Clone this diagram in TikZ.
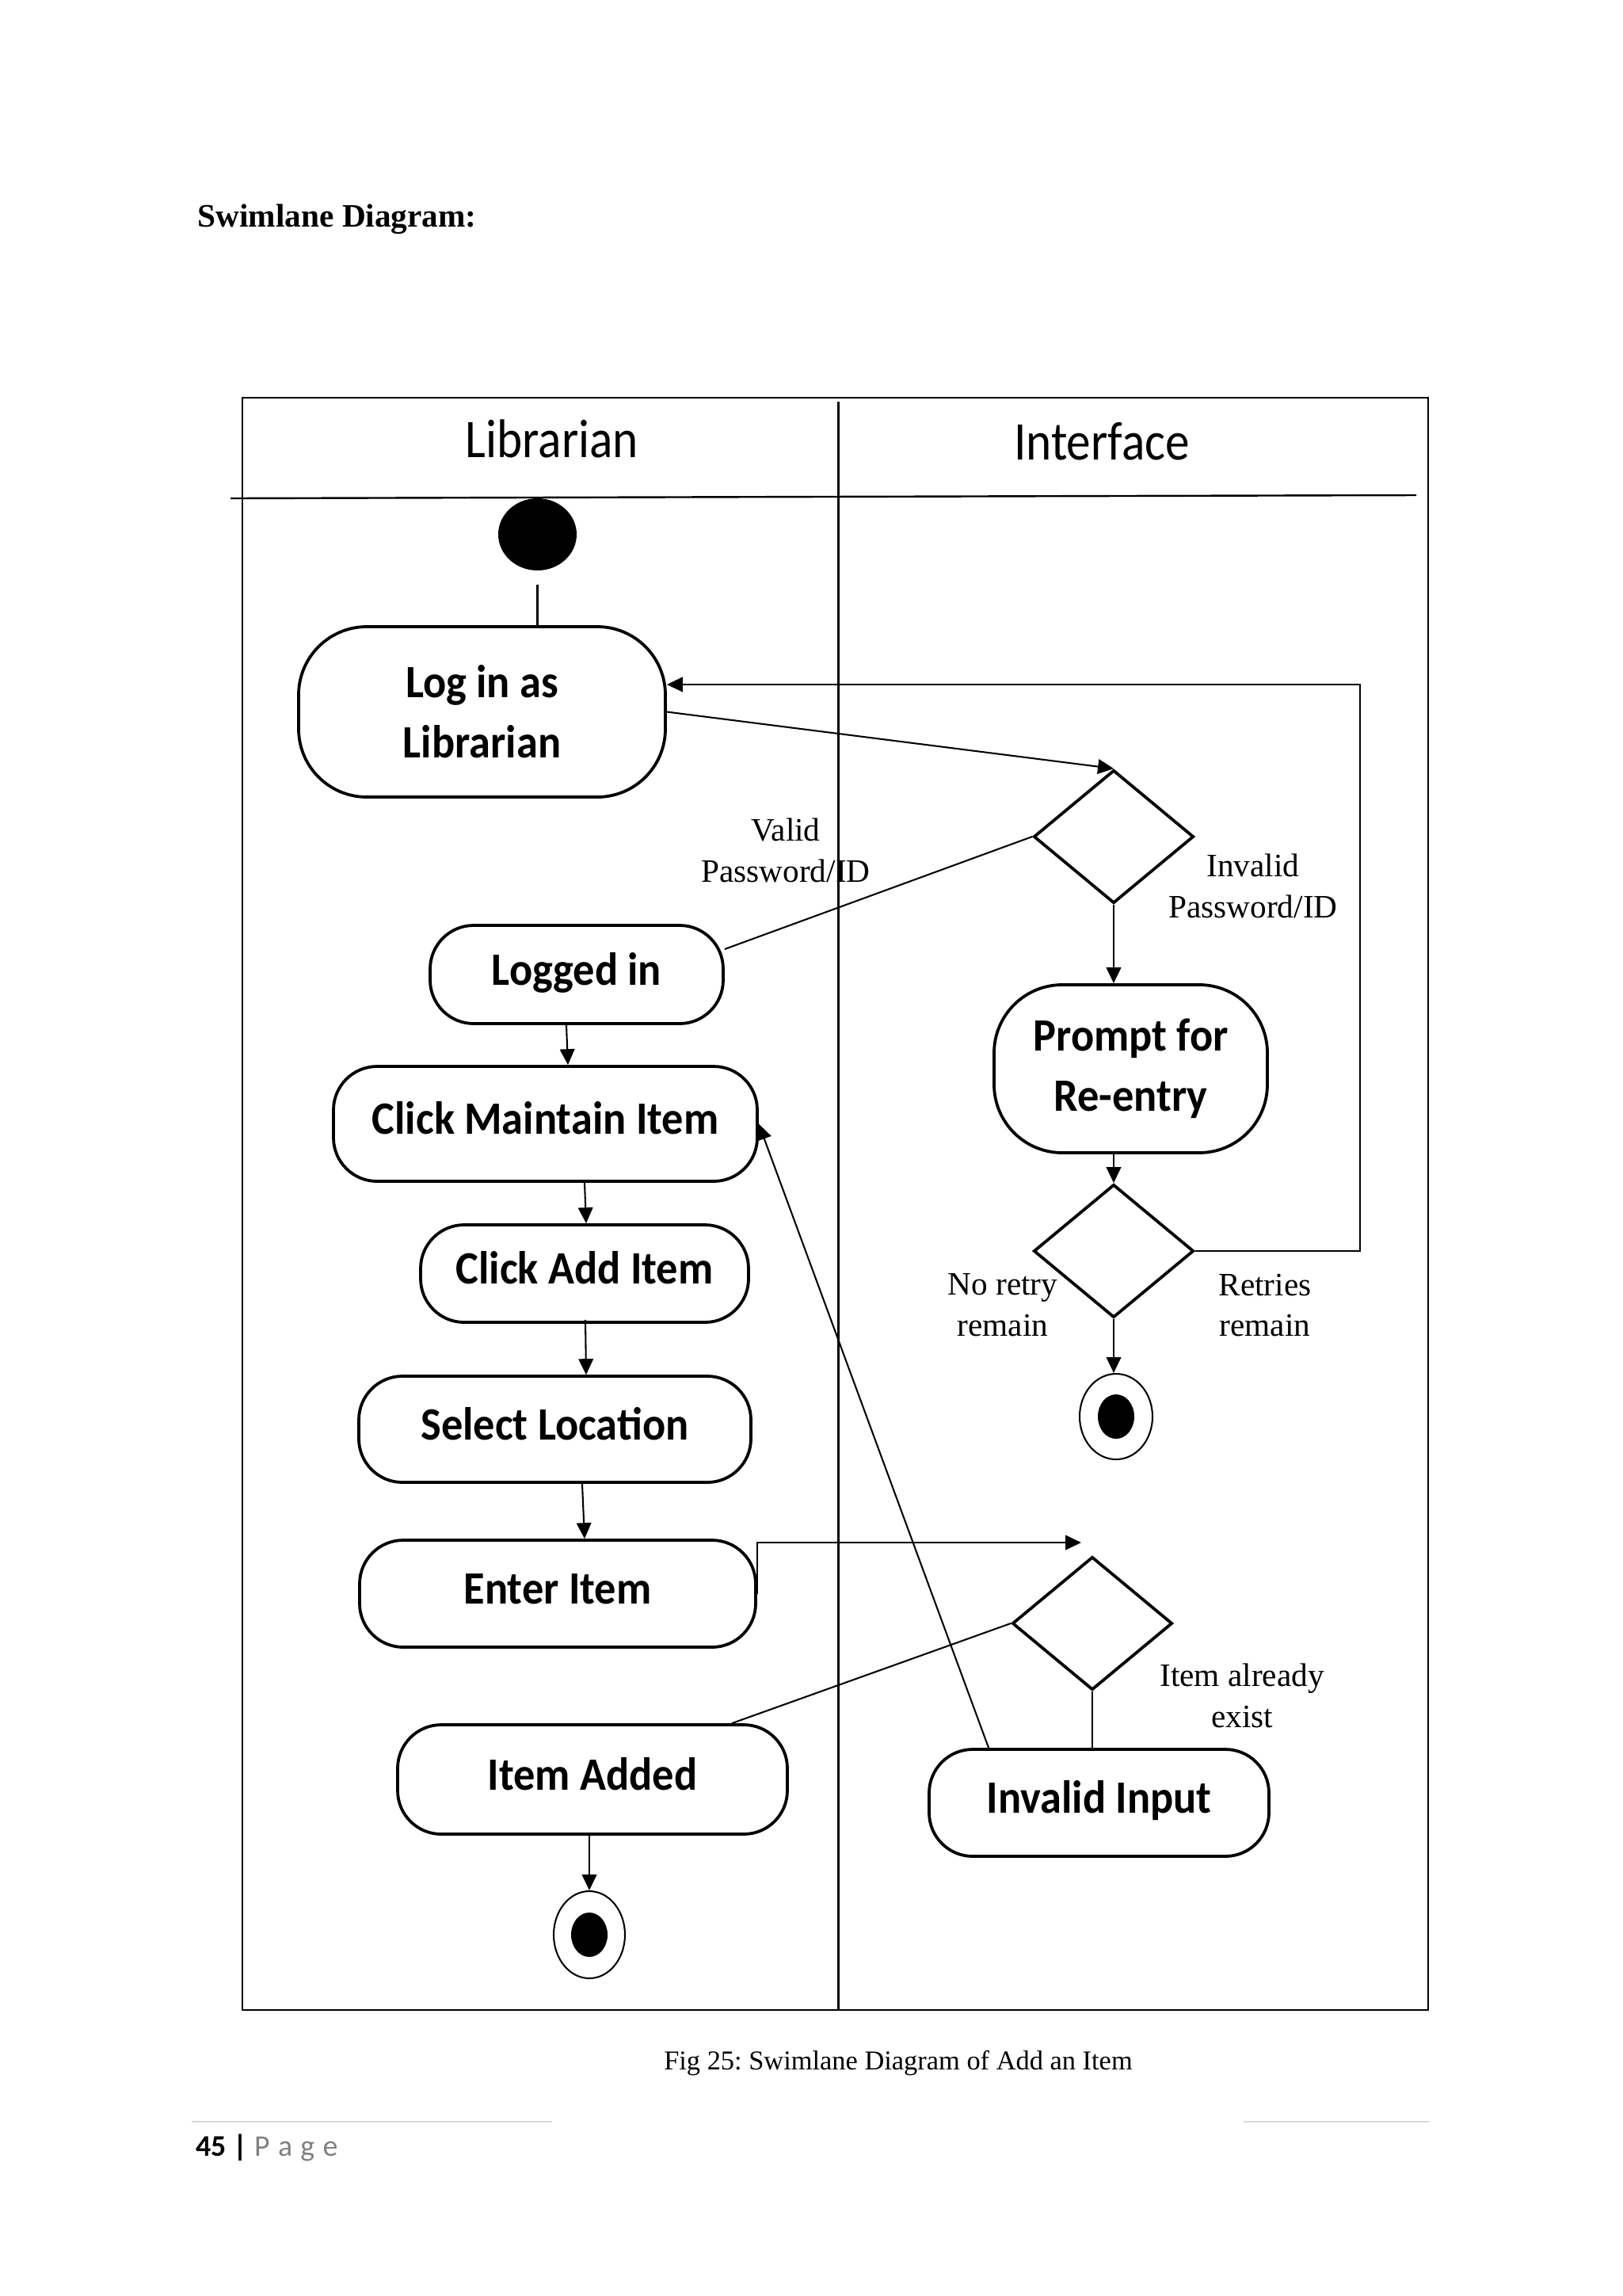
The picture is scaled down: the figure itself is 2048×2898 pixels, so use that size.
\documentclass[tikz,border=0pt]{standalone}
\usepackage{fontspec}
\setmainfont{Liberation Serif}
\newfontfamily\boxfont[FakeStretch=0.93]{Carlito}
\newfontfamily\hdrfont[FakeStretch=0.89]{Carlito}
\newfontfamily\footfont{Carlito}
\usetikzlibrary{shapes.geometric,arrows.meta,calc}
\def\upx{0.29067pt}
\definecolor{footgray}{HTML}{808080}
\definecolor{rulegray}{HTML}{D9D9D9}
\frenchspacing
\begin{document}
\begin{tikzpicture}[x=0.29067pt,y=-0.29067pt,
  conn/.style={line width=0.6pt},
  arr/.style={conn,-{Triangle[length=5.8pt,width=5.4pt]}},
  frame/.style={line width=0.7pt},
  act/.style={draw,line width=1.1pt,rounded corners=16pt,inner sep=0pt,align=center,
     font=\boxfont\bfseries\fontsize{17}{22}\selectfont},
  act1/.style={act,text height=11pt,text depth=3.4pt},
  dec/.style={diamond,draw,line width=1.1pt,minimum width=202*\upx,minimum height=168*\upx,inner sep=0pt},
  lbl/.style={align=center,inner sep=0pt,font=\fontsize{12}{15.1}\selectfont},
  endout/.style={ellipse,draw,line width=0.6pt,inner sep=0pt},
  endin/.style={ellipse,fill,inner sep=0pt,minimum width=46*\upx,minimum height=56*\upx},
  hdr/.style={anchor=base,inner sep=0pt,font=\hdrfont\fontsize{20}{24}\selectfont}]
\useasboundingbox (0,0) rectangle (2048,2898);

% page texts
\node[anchor=base west,inner sep=0pt,font=\bfseries\fontsize{12}{14}\selectfont] (title) at (249,286) {Swimlane Diagram:};
\node[anchor=base,inner sep=0pt,font=\fontsize{10}{12}\selectfont] (caption) at (1134,2612) {Fig 25: Swimlane Diagram of Add an Item};
\draw[rulegray,line width=0.6pt] (242,2678) -- (697,2678);
\draw[rulegray,line width=0.6pt] (1570,2678) -- (1805,2678);
\node[anchor=base west,inner sep=0pt,font=\footfont\fontsize{11}{13}\selectfont] (footer) at (247,2721) {\textbf{45 |} \textcolor{footgray}{P\kern3pt a\kern3pt g\kern3pt e}};

% swimlane frame
\draw[frame] (306,502) rectangle (1803,2537);
\draw[frame] (291,629) -- (1788,625);
\draw[frame] (1058.5,507) -- (1058.5,2537);
\node[hdr] (hlib) at (697,577) {Librarian};
\node[hdr] (hint) at (1391,580) {Interface};

% nodes
\node[ellipse,fill,inner sep=0pt,minimum width=99*\upx,minimum height=91*\upx] (start) at (678.5,674.5) {};
\node[act,minimum width=463*\upx,minimum height=215*\upx,rounded corners=25pt] (login) at (608.5,898.5) {Log in as\\Librarian};
\node[act1,minimum width=370*\upx,minimum height=124*\upx] (logged) at (728,1230) {Logged in};
\node[act1,minimum width=535*\upx,minimum height=145*\upx] (maint) at (688.5,1418.5) {Click Maintain Item};
\node[act1,minimum width=414*\upx,minimum height=123*\upx] (addi) at (738,1607.5) {Click Add Item};
\node[act1,minimum width=495*\upx,minimum height=134*\upx] (sel) at (700.5,1804) {Select Location};
\node[act1,minimum width=500*\upx,minimum height=135*\upx] (enter) at (704,2011.5) {Enter Item};
\node[act1,minimum width=492*\upx,minimum height=138*\upx] (added) at (748,2246) {Item Added};
\node[act,minimum width=345*\upx,minimum height=212*\upx,rounded corners=25pt] (prompt) at (1427.5,1349) {Prompt for\\Re-entry};
\node[act1,minimum width=429*\upx,minimum height=135*\upx] (invalid) at (1387.5,2275.5) {Invalid Input};

\node[dec] (d1) at (1406,1056) {};
\node[dec] (d2) at (1406,1579) {};
\node[dec] (d3) at (1379,2049) {};

\node[endout,minimum width=92*\upx,minimum height=108*\upx] (end1) at (1409,1788) {};
\node[endin] (end1in) at (end1) {};
\node[endout,minimum width=90*\upx,minimum height=110*\upx] (end2) at (744,2442) {};
\node[endin] (end2in) at (end2) {};

% labels
\node[lbl] (lvalid) at (992,1073) {Valid\\Password/ID};
\node[lbl] (linvalid) at (1582,1118.5) {Invalid\\Password/ID};
\node[lbl] (lnoretry) at (1266,1647.5) {No retry\\remain};
\node[lbl] (lretries) at (1597,1647.5) {Retries\\remain};
\node[lbl] (lexist) at (1568,2140) {Item already\\exist};

% connectors
\coordinate (loopt) at (1717,864);
\coordinate (d3in) at (1365,1947);
\draw[conn] ($(start.south)+(0,17)$) -- (start |- login.north);
\draw[arr] (login.east) -- (d1.north);
\draw[conn] (d1.west) -- ($(logged.east)+(0,-32)$);
\draw[arr] (d1.south) -- (d1.south |- prompt.north);
\draw[arr] (prompt.south -| d2.north) -- (d2.north);
\draw[arr] (d2.south) -- (d2.south |- end1.north);
\draw[arr] (d2.east) -| (loopt) -- (login.east |- loopt);
\draw[arr] ($(logged.south)+(-13,0)$) -- ($(maint.north)+(28.5,0)$);
\draw[arr] ($(maint.south)+(49.5,0)$) -- ($(addi.north)+(2,0)$);
\draw[arr] ($(addi.south)+(1,-5)$) -- ($(sel.north)+(39.5,0)$);
\draw[arr] ($(sel.south)+(34.5,0)$) -- ($(enter.north)+(34,0)$);
\draw[arr] (enter.east) |- (d3in);
\draw[conn] (d3.west) -- ($(added.north)+(176,0)$);
\draw[conn] (d3.south) -- (d3.south |- invalid.north);
\draw[arr] ($(invalid.north west)+(77,0)$) -- (maint.east);
\draw[arr] (added.south -| end2.north) -- (end2.north);
\end{tikzpicture}
\end{document}
